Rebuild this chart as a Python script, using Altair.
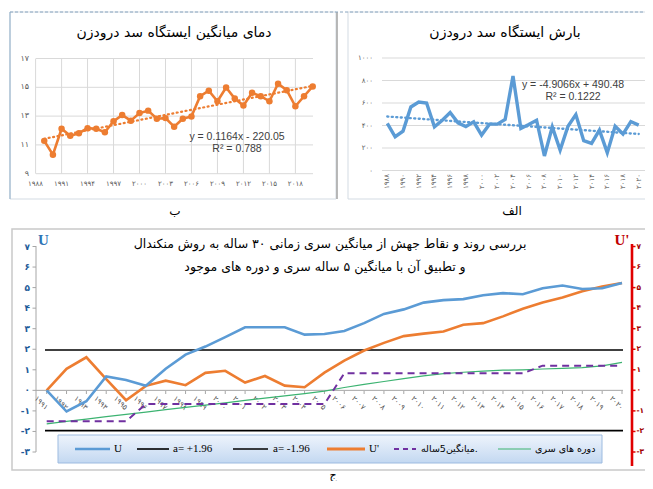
import altair as alt
import pandas as pd

FA = str.maketrans("0123456789", "۰۱۲۳۴۵۶۷۸۹")


def fa(v):
    return str(v).translate(FA)


# ---------------- data: temperature (panel ب) ----------------
temp_years = [1989, 1990, 1991, 1992, 1993, 1994, 1995, 1996, 1997, 1998, 1999, 2000,
              2001, 2002, 2003, 2004, 2005, 2006, 2007, 2008, 2009, 2010, 2011, 2012,
              2013, 2014, 2015, 2016, 2017, 2018, 2019, 2020]
temp_values = [11.28, 10.32, 12.12, 11.63, 11.81, 12.16, 12.12, 11.88, 12.65, 13.07, 12.68, 13.21,
               13.38, 12.82, 12.86, 12.26, 12.82, 12.98, 14.38, 14.76, 14.03, 14.99, 14.22, 13.73,
               14.62, 14.38, 14.03, 15.25, 14.80, 13.68, 14.38, 15.06]
temp_yticks = [9, 11, 13, 15, 17]
temp_xticks = [1988, 1991, 1994, 1997, 2000, 2003, 2006, 2009, 2012, 2015, 2018]
temp_title = "دمای میانگین ایستگاه سد درودزن"
temp_eq = "y = 0.1164x - 220.05"
temp_r2 = "R² = 0.788"

# ---------------- data: precipitation (panel الف) ----------------
rain_years = [1988, 1989, 1990, 1991, 1992, 1993, 1994, 1995, 1996, 1997, 1998, 1999, 2000,
              2001, 2002, 2003, 2004, 2005, 2006, 2007, 2008, 2009, 2010, 2011, 2012,
              2013, 2014, 2015, 2016, 2017, 2018, 2019, 2020]
rain_values = [418, 300, 350, 565, 609, 600, 388, 447, 515, 424, 391, 432, 315,
               412, 412, 453, 840, 374, 409, 447, 129, 388, 182, 394, 497,
               265, 241, 359, 159, 394, 324, 435, 403]
rain_yticks = [0, 200, 400, 600, 800, 1000]
rain_xticks = [1988, 1990, 1992, 1994, 1996, 1998, 2000, 2002, 2004, 2006, 2008,
               2010, 2012, 2014, 2016, 2018, 2020]
rain_title = "بارش ایستگاه سد درودزن"
rain_eq = "y = -4.9066x + 490.48"
rain_r2 = "R² = 0.1222"

# ---------------- data: Mann-Kendall (panel ج) ----------------
mk_years = [1991, 1992, 1993, 1994, 1995, 1996, 1997, 1998, 1999, 2000,
            2001, 2002, 2003, 2004, 2005, 2006, 2007, 2008, 2009, 2010,
            2011, 2012, 2013, 2014, 2015, 2016, 2017, 2018, 2019, 2020]
mk_u = [0.0, -1.03, -0.53, 0.68, 0.50, 0.22, 1.05, 1.74, 2.13, 2.59,
        3.07, 3.07, 3.07, 2.71, 2.74, 2.89, 3.27, 3.72, 3.94, 4.27,
        4.39, 4.44, 4.63, 4.73, 4.68, 4.97, 5.10, 4.93, 4.97, 5.22]
mk_u_prime = [0.0, 1.05, 1.61, 0.55, -0.48, 0.22, 0.47, 0.25, 0.85, 0.95,
              0.38, 0.70, 0.23, 0.15, 0.86, 1.45, 1.94, 2.31, 2.64, 2.76,
              2.86, 3.19, 3.27, 3.60, 3.97, 4.27, 4.52, 4.82, 5.05, 5.22]
mk_mean5 = [-1.5, -1.5, -1.5, -1.5, -1.5, -0.67, -0.67, -0.67, -0.67, -0.67,
            -0.67, -0.67, -0.67, -0.67, -0.67, 0.83, 0.83, 0.83, 0.83, 0.83,
            0.83, 0.83, 0.83, 0.83, 0.83, 1.2, 1.2, 1.2, 1.2, 1.2]
mk_periods = [-1.63, -1.51, -1.40, -1.28, -1.17, -1.06, -0.94, -0.83, -0.72, -0.61,
              -0.49, -0.38, -0.27, -0.16, -0.04, 0.14, 0.29, 0.43, 0.57, 0.70,
              0.81, 0.88, 0.94, 0.98, 1.00, 1.04, 1.07, 1.11, 1.19, 1.36]
mk_thresholds = [1.96, -1.96]
mk_yticks = [-3, -2, -1, 0, 1, 2, 3, 4, 5, 6, 7]
mk_title1 = "بررسی روند و نقاط جهش از میانگین سری زمانی ۳۰ ساله به روش منکندال"
mk_title2 = "و تطبیق آن با میانگین ۵ ساله سری و دوره های موجود"
legend_labels = ["U", "a= +1.96", "a= -1.96", "U'", "میانگین5ساله.", "دوره های سری"]

# ---------------- helpers ----------------
ONE = pd.DataFrame({"k": [0]})
FARSI_FONT = "DejaVu Sans"
LAT_FONT = "Liberation Sans"
SERIF = "Liberation Serif"


def P(v):
    return v - 8


def text_at(text, x, y, size=12, color="black", font=FARSI_FONT, align="center",
            baseline="middle", weight="normal"):
    return alt.Chart(ONE).mark_text(text=text, align=align, baseline=baseline, fontSize=size,
                                    color=color, font=font, fontWeight=weight).encode(
        x=alt.value(P(x)), y=alt.value(P(y)))


def rect_at(x0, y0, x1, y1, fill, stroke, sw=1.0):
    return alt.Chart(ONE).mark_rect(fill=fill, stroke=stroke, strokeWidth=sw).encode(
        x=alt.value(P(x0)), x2=alt.value(P(x1)), y=alt.value(P(y0)), y2=alt.value(P(y1)))


def hline_at(x0, x1, y, color, sw=1.0, dash=None):
    kw = dict(color=color, strokeWidth=sw)
    if dash:
        kw["strokeDash"] = dash
    return alt.Chart(ONE).mark_rule(**kw).encode(
        x=alt.value(P(x0)), x2=alt.value(P(x1)), y=alt.value(P(y)))


def vline_at(x, y0, y1, color, sw=1.0):
    return alt.Chart(ONE).mark_rule(color=color, strokeWidth=sw).encode(
        x=alt.value(P(x)), y=alt.value(P(y0)), y2=alt.value(P(y1)))


def lin(domain, r0, r1):
    return alt.Scale(domain=domain, range=[P(r0), P(r1)], nice=False, zero=False)


L = []

# ---------------- panel frames ----------------
L.append(rect_at(10, 12, 336, 199, "white", "#d3dbe3", 1))
L.append(rect_at(348, 12, 660, 199, "white", "#d3dbe3", 1))
L.append(vline_at(10, 12, 199, "#9fb9d0", 1.2))
L.append(vline_at(337, 12, 199, "#a8a8a8", 1.6))
L.append(hline_at(10, 653, 12, "#8aa6c0", 1, [3, 2]))
L.append(rect_at(12, 229, 660, 470, "white", "#c9c9c9", 1.5))

# ---------------- panel ب : temperature ----------------
tx = lin([1988, 2020], 35.6, 312.7)
ty = lin([9, 17], 173.7, 58.5)
t_df = pd.DataFrame({"year": temp_years, "value": temp_values})
t_yt = pd.DataFrame({"v": temp_yticks, "lab": [fa(v) for v in temp_yticks]})
t_xt = pd.DataFrame({"v": temp_xticks, "lab": [fa(v) for v in temp_xticks]})

L.append(alt.Chart(t_yt).mark_rule(color="#d9d9d9", strokeWidth=1).encode(
    y=alt.Y("v:Q", scale=ty, axis=None), x=alt.value(P(36)), x2=alt.value(P(313))))
L.append(alt.Chart(t_xt).mark_rule(color="#d9d9d9", strokeWidth=1).encode(
    x=alt.X("v:Q", scale=tx, axis=None), y=alt.value(P(58.5)), y2=alt.value(P(173.7))))
L.append(alt.Chart(t_df).transform_regression("year", "value").mark_line(
    color="#ED7D31", strokeWidth=2.2, strokeDash=[1, 3.5], strokeCap="round").encode(
    x=alt.X("year:Q", scale=tx, axis=None), y=alt.Y("value:Q", scale=ty, axis=None)))
L.append(alt.Chart(t_df).mark_line(color="#ED7D31", strokeWidth=2.6).encode(
    x=alt.X("year:Q", scale=tx, axis=None), y=alt.Y("value:Q", scale=ty, axis=None)))
L.append(alt.Chart(t_df).mark_circle(color="#ED7D31", size=42, opacity=1).encode(
    x=alt.X("year:Q", scale=tx, axis=None), y=alt.Y("value:Q", scale=ty, axis=None)))
L.append(alt.Chart(t_yt).mark_text(align="right", baseline="middle", fontSize=8,
                                   color="#595959", font=FARSI_FONT).encode(
    y=alt.Y("v:Q", scale=ty, axis=None), x=alt.value(P(29)), text="lab:N"))
L.append(alt.Chart(t_xt).mark_text(align="center", baseline="middle", fontSize=7,
                                   color="#595959", font=FARSI_FONT).encode(
    x=alt.X("v:Q", scale=tx, axis=None), y=alt.value(P(184)), text="lab:N"))
L.append(text_at(temp_title, 174, 33, size=14))
L.append(text_at(temp_eq, 237, 137, size=10.5, color="#404040", font=LAT_FONT))
L.append(text_at(temp_r2, 237, 149, size=10.5, color="#404040", font=LAT_FONT))
L.append(text_at("ب", 175, 211, size=12))

# ---------------- panel الف : precipitation ----------------
rx = lin([1988, 2020], 387.3, 638.7)
ry = lin([0, 1000], 170.5, 58)
r_df = pd.DataFrame({"year": rain_years, "value": rain_values})
r_yt = pd.DataFrame({"v": rain_yticks, "lab": [fa(v) for v in rain_yticks]})
r_xt = pd.DataFrame({"v": rain_xticks, "lab": [fa(v) for v in rain_xticks]})

L.append(alt.Chart(r_yt).mark_rule(color="#d9d9d9", strokeWidth=1).encode(
    y=alt.Y("v:Q", scale=ry, axis=None), x=alt.value(P(382)), x2=alt.value(P(645))))
L.append(alt.Chart(r_df).transform_regression("year", "value").mark_line(
    color="#5B9BD5", strokeWidth=2.4, strokeDash=[1, 3.5], strokeCap="round").encode(
    x=alt.X("year:Q", scale=rx, axis=None), y=alt.Y("value:Q", scale=ry, axis=None)))
L.append(alt.Chart(r_df).mark_line(color="#5B9BD5", strokeWidth=3.4).encode(
    x=alt.X("year:Q", scale=rx, axis=None), y=alt.Y("value:Q", scale=ry, axis=None)))
L.append(alt.Chart(r_yt).mark_text(align="right", baseline="middle", fontSize=7,
                                   color="#595959", font=FARSI_FONT).encode(
    y=alt.Y("v:Q", scale=ry, axis=None), x=alt.value(P(373)), text="lab:N"))
L.append(alt.Chart(r_xt).mark_text(align="right", baseline="middle", fontSize=7, angle=270,
                                   color="#595959", font=FARSI_FONT).encode(
    x=alt.X("v:Q", scale=rx, axis=None), y=alt.value(P(174)), text="lab:N"))
L.append(text_at(rain_title, 505, 33, size=14))
L.append(text_at(rain_eq, 573, 85, size=10.5, color="#404040", font=LAT_FONT))
L.append(text_at(rain_r2, 573, 97, size=10.5, color="#404040", font=LAT_FONT))
L.append(text_at("الف", 512, 211, size=12))

# ---------------- panel ج : Mann-Kendall ----------------
mx = lin([1991, 2020], 46.7, 622)
my = lin([-3, 7], 452, 246.5)
m_df = pd.DataFrame({"year": mk_years, "u": mk_u, "up": mk_u_prime,
                     "m5": mk_mean5, "per": mk_periods,
                     "lab": [fa(v) for v in mk_years]})
m_yt = pd.DataFrame({"v": mk_yticks, "lab": [fa(v) for v in mk_yticks]})
m_th = pd.DataFrame({"v": mk_thresholds})
m_zero = pd.DataFrame({"v": [0]})

# axes
L.append(vline_at(36, 246, 452, "#a6a6a6", 1))
L.append(alt.Chart(m_yt).mark_rule(color="#a6a6a6").encode(
    y=alt.Y("v:Q", scale=my, axis=None), x=alt.value(P(32.5)), x2=alt.value(P(36))))
L.append(alt.Chart(m_yt).mark_text(align="right", baseline="middle", fontSize=9,
                                   color="#1f5c99", font=FARSI_FONT, fontWeight="bold").encode(
    y=alt.Y("v:Q", scale=my, axis=None), x=alt.value(P(30)), text="lab:N"))
L.append(vline_at(632, 244, 466, "#e00000", 2.6))
L.append(alt.Chart(m_yt).mark_rule(color="#e00000", strokeWidth=1.5).encode(
    y=alt.Y("v:Q", scale=my, axis=None), x=alt.value(P(632)), x2=alt.value(P(635.5))))
L.append(alt.Chart(m_yt).mark_text(align="left", baseline="middle", fontSize=7.5,
                                   color="#a00000", font=FARSI_FONT, fontWeight="bold").encode(
    y=alt.Y("v:Q", scale=my, axis=None), x=alt.value(P(636.5)), text="lab:N"))
L.append(alt.Chart(m_zero).mark_rule(color="#a6a6a6", strokeWidth=1).encode(
    y=alt.Y("v:Q", scale=my, axis=None), x=alt.value(P(36)), x2=alt.value(P(623))))
L.append(alt.Chart(m_df).mark_rule(color="#a6a6a6", strokeWidth=1).encode(
    x=alt.X("year:Q", scale=mx, axis=None), y=alt.value(P(391)), y2=alt.value(P(394))))
L.append(alt.Chart(m_df).mark_text(align="right", baseline="middle", fontSize=7.5, angle=45,
                                   color="#595959", font=FARSI_FONT).encode(
    x=alt.X("year:Q", scale=mx, axis=None), y=alt.value(P(409)), text="lab:N"))
L.append(alt.Chart(m_th).mark_rule(color="black", strokeWidth=1.6).encode(
    y=alt.Y("v:Q", scale=my, axis=None), x=alt.value(P(45)), x2=alt.value(P(623))))

# series
L.append(alt.Chart(m_df).mark_line(color="#3cb371", strokeWidth=1.2).encode(
    x=alt.X("year:Q", scale=mx, axis=None), y=alt.Y("per:Q", scale=my, axis=None)))
L.append(alt.Chart(m_df).mark_line(color="#7030A0", strokeWidth=2, strokeDash=[7, 5]).encode(
    x=alt.X("year:Q", scale=mx, axis=None), y=alt.Y("m5:Q", scale=my, axis=None)))
L.append(alt.Chart(m_df).mark_line(color="#ED7D31", strokeWidth=2.6).encode(
    x=alt.X("year:Q", scale=mx, axis=None), y=alt.Y("up:Q", scale=my, axis=None)))
L.append(alt.Chart(m_df).mark_line(color="#5B9BD5", strokeWidth=2.6).encode(
    x=alt.X("year:Q", scale=mx, axis=None), y=alt.Y("u:Q", scale=my, axis=None)))

# titles
L.append(text_at(mk_title1, 330, 244, size=12.5))
L.append(text_at(mk_title2, 325, 267, size=12.5))
L.append(text_at("U", 38, 240, size=15, color="#2e75b6", font=SERIF, weight="bold", align="left"))
L.append(text_at("U'", 622, 240, size=15, color="#c00000", font=SERIF, weight="bold"))

# legend box
grad = alt.LinearGradient(gradient="linear", x1=0, x2=0, y1=0, y2=1,
                          stops=[alt.GradientStop(offset=0, color="#eef4fc"),
                                 alt.GradientStop(offset=1, color="#c3d8f1")])
L.append(alt.Chart(ONE).mark_rect(fill=grad, stroke="#9dbbe0", strokeWidth=1).encode(
    x=alt.value(P(58)), x2=alt.value(P(602)), y=alt.value(P(435)), y2=alt.value(P(463))))
LY = 449
L.append(hline_at(75, 110, LY, "#5B9BD5", 2.6))
L.append(text_at(legend_labels[0], 114, LY, size=11, font=SERIF, align="left"))
L.append(hline_at(137, 169, LY, "black", 1.6))
L.append(text_at(legend_labels[1], 173, LY, size=11, font=SERIF, align="left"))
L.append(hline_at(233, 268, LY, "black", 1.6))
L.append(text_at(legend_labels[2], 273, LY, size=11, font=SERIF, align="left"))
L.append(hline_at(327, 365, LY, "#ED7D31", 3))
L.append(text_at(legend_labels[3], 369, LY, size=11, font=SERIF, align="left"))
L.append(hline_at(394, 416, LY, "#7030A0", 2, [5, 4]))
L.append(text_at(legend_labels[4], 421, LY, size=9.5, align="left"))
L.append(hline_at(498, 531, LY, "#3cb371", 1.2))
L.append(text_at(legend_labels[5], 535, LY, size=9.5, align="left"))
L.append(text_at("ج", 333, 480.5, size=11, baseline="bottom"))

chart = alt.layer(*L).resolve_scale(x="independent", y="independent").properties(
    width=637, height=473, autosize=alt.AutoSizeParams(type="none"), padding=0
).configure_view(stroke=None)

chart.save("out.html", embed_options={"renderer": "svg", "actions": False})
